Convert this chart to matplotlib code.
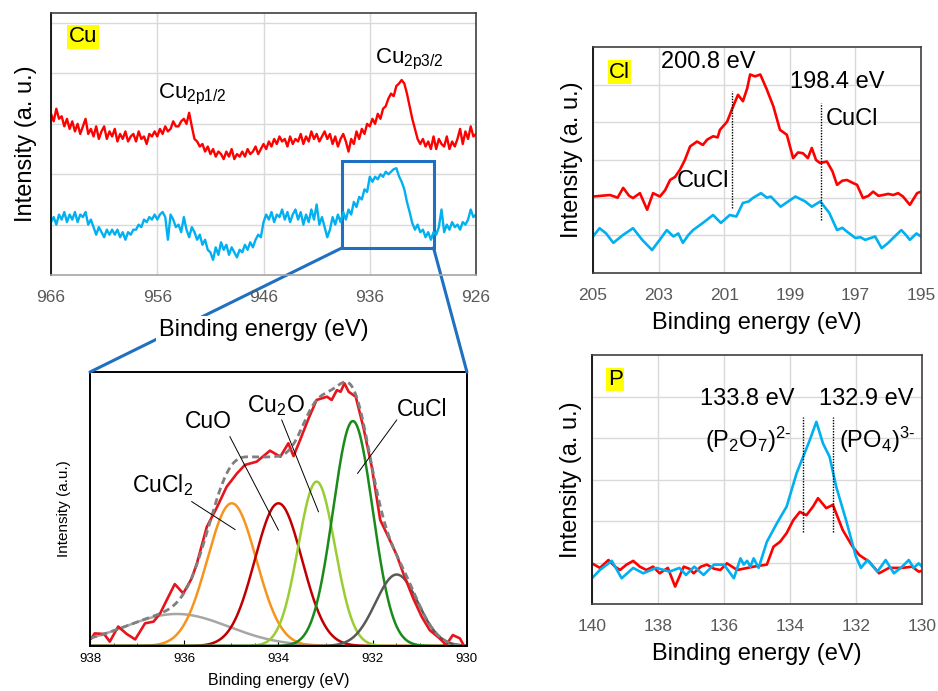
"""
XPS panels: Cu 2p survey with deconvoluted inset, Cl 2p and P 2p.
Red = sample A, blue = sample B. Intensities are in arbitrary units.
"""
import numpy as np
import matplotlib

matplotlib.use("Agg")
import matplotlib.pyplot as plt
from matplotlib.patches import Rectangle, ConnectionPatch

plt.rcParams["font.family"] = ["Liberation Sans", "DejaVu Sans"]
plt.rcParams["mathtext.fontset"] = "custom"
plt.rcParams["mathtext.rm"] = "Liberation Sans"
plt.rcParams["mathtext.default"] = "regular"

RED = "#ff0000"
BLUE = "#00b0f0"
BOX_BLUE = "#1f70c1"
GRID = "#d9d9d9"

# ---- Cu 2p, 966 -> 926 eV, one value every 0.25 eV
cu_energy = np.linspace(966, 926, 161)
cu_red = [
    3.2, 3.05, 3.3, 3.1, 3.15, 2.95, 3.1, 2.9,
    3.05, 2.85, 3.0, 2.8, 2.95, 3.1, 2.8, 2.9,
    2.75, 2.95, 2.7, 2.85, 2.95, 2.7, 2.85, 2.75,
    2.9, 2.65, 2.8, 2.7, 2.85, 2.65, 2.75, 2.8,
    2.65, 2.85, 2.7, 2.75, 2.6, 2.8, 2.75, 2.85,
    2.75, 2.9, 2.8, 2.95, 2.85, 2.9, 3.05, 2.95,
    2.95, 3.05, 3.1, 3.0, 3.22, 2.95, 2.7, 2.65,
    2.55, 2.6, 2.45, 2.55, 2.4, 2.5, 2.35, 2.45,
    2.4, 2.3, 2.45, 2.35, 2.5, 2.3, 2.4, 2.35,
    2.45, 2.35, 2.5, 2.4, 2.45, 2.55, 2.4, 2.5,
    2.6, 2.5, 2.65, 2.55, 2.7, 2.6, 2.75, 2.65,
    2.7, 2.55, 2.75, 2.6, 2.7, 2.65, 2.8, 2.6,
    2.75, 2.65, 2.85, 2.7, 2.8, 2.65, 2.75, 2.85,
    2.7, 2.8, 2.6, 2.75, 2.55, 2.7, 2.8, 2.65,
    2.45, 2.7, 2.6, 2.85, 2.7, 2.9, 2.8, 3.0,
    2.95, 3.1, 3.0, 3.2, 3.1, 3.3, 3.35, 3.5,
    3.6, 3.55, 3.75, 3.8, 3.87, 3.8, 3.6, 3.35,
    3.1, 2.9, 2.7, 2.6, 2.7, 2.55, 2.65, 2.5,
    2.75, 2.5, 2.7, 2.6, 2.55, 2.75, 2.5, 2.65,
    2.55, 2.7, 2.9, 2.6, 2.85, 2.7, 2.95, 2.75,
    2.8,
]
cu_blue = [
    1.05, 1.15, 1.0, 1.2, 1.1, 1.25, 1.05, 1.2,
    1.1, 1.25, 1.05, 1.2, 1.15, 1.25, 1.0, 1.1,
    0.95, 0.8, 0.95, 0.85, 0.75, 0.9, 0.8, 0.9,
    0.8, 0.9, 0.75, 0.85, 0.7, 0.85, 0.8, 0.9,
    0.9, 1.0, 0.95, 1.1, 1.05, 1.15, 1.1, 1.2,
    1.1, 1.2, 1.25, 1.15, 0.7, 1.2, 1.1, 0.95,
    1.0, 0.85, 1.15, 0.9, 0.75, 0.95, 0.85, 0.7,
    0.8, 0.6, 0.7, 0.5, 0.45, 0.3, 0.55, 0.4,
    0.65, 0.5, 0.6, 0.4, 0.55, 0.45, 0.35, 0.5,
    0.45, 0.6, 0.5, 0.65, 0.55, 0.7, 0.8, 0.75,
    1.05, 1.2, 1.1, 1.25, 1.05, 1.2, 1.15, 1.3,
    1.1, 1.25, 1.05, 1.2, 1.3, 1.1, 1.25, 1.0,
    1.2, 1.05, 1.3, 1.1, 1.4, 1.0, 1.15, 0.95,
    0.75, 0.9, 1.15, 1.0, 1.2, 1.05, 1.25, 1.1,
    1.3, 1.2, 1.45, 1.35, 1.55, 1.5, 1.7, 1.65,
    1.95, 1.85, 1.95, 1.9, 2.0, 1.95, 2.05, 2.0,
    2.05, 2.1, 2.12, 1.96, 1.85, 1.7, 1.45, 1.25,
    1.03, 0.9, 1.0, 0.85, 0.9, 0.75, 0.85, 0.7,
    0.85, 0.8, 0.95, 1.3, 0.85, 1.0, 0.9, 1.05,
    0.95, 1.0, 0.9, 1.05, 1.0, 1.1, 1.3, 1.15,
    1.2,
]

# zoom box on the Cu panel (eV, a.u.)
cu_box_e = (938.6, 930.0)
cu_box_i = (0.54, 2.26)

# ---- inset: measured Cu 2p3/2 and fitted components
fit_energy = [
    937.97, 937.9, 937.7, 937.58, 937.4, 937.22, 937.04, 936.83, 936.65,
    936.51, 936.37, 936.2, 936.02, 935.84, 935.73, 935.52, 935.3, 935.1,
    934.88, 934.71, 934.46, 934.18, 933.96, 933.79, 933.68, 933.54, 933.36,
    933.19, 932.97, 932.87, 932.76, 932.68, 932.6, 932.51, 932.36, 932.2,
    932.02, 931.84, 931.67, 931.49, 931.35, 931.14, 930.96, 930.79, 930.58,
    930.44, 930.3, 930.15, 930.06,
]
fit_measured = [
    0.28, 0.46, 0.44, 0.16, 0.71, 0.44, 0.24, 0.83, 0.89,
    1.19, 1.68, 2.26, 1.92, 2.47, 3.02, 4.35, 5.08, 5.81,
    6.3, 6.61, 6.73, 7.13, 6.91, 7.4, 6.93, 7.52, 8.31,
    8.98, 9.1, 8.98, 9.34, 9.28, 9.59, 9.28, 9.1, 8.0,
    6.54, 4.6, 3.99, 3.32, 2.65, 1.74, 1.07, 0.58, 0.28,
    0.04, 0.4, 0.28, 0.0,
]
comp_center = [936.16, 934.99, 934.0, 933.19, 932.42, 931.49]
comp_height = [1.17, 5.21, 5.21, 6.0, 8.21, 2.61]
comp_sigma = [1.1, 0.52, 0.5, 0.39, 0.42, 0.45]
comp_color = ["#a6a6a6", "#f7941d", "#c00000", "#9acd32", "#1a8a1a", "#595959"]

# ---- Cl 2p
cl_red_e = [
    205.0, 204.75, 204.48, 204.25, 204.08, 203.9, 203.78, 203.57, 203.35,
    203.17, 202.96, 202.8, 202.65, 202.5, 202.35, 202.2, 202.04, 201.83,
    201.65, 201.52, 201.34, 201.2, 201.13, 200.91, 200.73, 200.58, 200.43,
    200.3, 200.21, 200.06, 199.9, 199.7, 199.5, 199.3, 199.09, 198.9,
    198.75, 198.6, 198.45, 198.33, 198.2, 198.08, 197.87, 197.7, 197.56,
    197.4, 197.26, 197.1, 196.95, 196.77, 196.6, 196.46, 196.3, 196.16,
    196.0, 195.85, 195.7, 195.55, 195.34, 195.12, 195.0,
]
cl_red_i = [
    2.03, 2.05, 2.07, 2.0, 2.26, 2.05, 1.99, 2.12, 1.68,
    2.12, 2.03, 2.2, 2.47, 2.55, 2.74, 3.0, 3.36, 3.49,
    3.4, 3.54, 3.63, 3.6, 3.8, 4.02, 4.42, 4.73, 4.56,
    4.9, 5.27, 5.22, 5.27, 4.87, 4.42, 3.8, 3.67, 3.05,
    3.2, 3.18, 3.05, 3.32, 3.0, 2.92, 2.96, 2.7, 2.34,
    2.45, 2.47, 2.4, 2.34, 1.99, 2.05, 2.16, 2.05, 2.07,
    2.1, 2.07, 2.12, 2.03, 1.81, 2.12, 2.16,
]
cl_blue_e = [
    205.0, 204.8, 204.6, 204.38, 204.1, 203.78, 203.5, 203.2, 202.95,
    202.75, 202.55, 202.4, 202.26, 202.1, 201.95, 201.65, 201.34, 201.1,
    200.83, 200.63, 200.43, 200.25, 200.13, 199.88, 199.7, 199.58, 199.28,
    199.05, 198.83, 198.53, 198.33, 198.07, 197.8, 197.56, 197.4, 197.26,
    197.0, 196.85, 196.7, 196.4, 196.2, 196.0, 195.85, 195.6, 195.45,
    195.34, 195.14, 195.0,
]
cl_blue_i = [
    0.97, 1.19, 1.05, 0.8, 1.0, 1.19, 0.88, 0.61, 0.9,
    1.14, 0.97, 1.05, 0.8, 1.0, 1.14, 1.33, 1.54, 1.33,
    1.54, 1.5, 1.86, 1.9, 1.99, 2.12, 2.0, 2.03, 1.76,
    1.9, 2.03, 1.9, 1.76, 1.9, 1.6, 1.14, 1.2, 1.1,
    0.93, 0.95, 0.88, 0.97, 0.66, 0.8, 0.93, 1.14, 1.0,
    0.88, 1.05, 0.97,
]
cl_mark_e = [200.75, 198.05]
cl_mark_lo = [1.73, 1.41]
cl_mark_hi = [4.82, 4.52]

# ---- P 2p
p_red_e = [
    140.0, 139.76, 139.5, 139.3, 139.15, 138.95, 138.75, 138.55, 138.35,
    138.15, 137.95, 137.7, 137.48, 137.22, 137.05, 136.92, 136.7, 136.52,
    136.3, 136.11, 135.91, 135.6, 135.1, 134.7, 134.5, 134.3, 134.1,
    133.9, 133.7, 133.5, 133.3, 133.15, 132.9, 132.7, 132.4, 132.1,
    131.9, 131.6, 131.3, 131.0, 130.6, 130.3, 130.1, 130.0,
]
p_red_i = [
    0.98, 0.87, 1.06, 0.9, 0.82, 0.95, 1.04, 0.9, 0.82,
    0.9, 0.74, 0.87, 0.42, 0.9, 0.85, 0.74, 0.9, 0.95,
    0.85, 0.82, 0.98, 0.82, 0.9, 0.95, 1.38, 1.5, 1.71,
    2.02, 2.22, 2.14, 2.35, 2.55, 2.31, 2.39, 1.78, 1.38,
    1.18, 1.02, 0.74, 0.87, 0.87, 0.9, 0.78, 0.8,
]
p_blue_e = [
    140.0, 139.76, 139.4, 139.1, 138.75, 138.45, 138.05, 137.65, 137.35,
    137.15, 136.9, 136.62, 136.3, 136.0, 135.7, 135.5, 135.4, 135.3,
    135.2, 135.1, 134.95, 134.7, 134.4, 134.1, 133.8, 133.6, 133.4,
    133.2, 133.0, 132.8, 132.6, 132.3, 132.0, 131.85, 131.65, 131.35,
    131.1, 130.85, 130.6, 130.4, 130.25, 130.1, 130.0,
]
p_blue_i = [
    0.62, 0.82, 1.04, 0.62, 0.87, 0.74, 0.87, 0.78, 0.87,
    0.7, 0.9, 0.7, 0.95, 0.95, 0.62, 1.1, 0.95, 1.04,
    0.9, 1.1, 0.87, 1.5, 1.94, 2.35, 3.15, 3.55, 3.95,
    4.39, 3.87, 3.55, 2.83, 2.02, 1.14, 0.87, 1.06, 0.78,
    1.06, 0.74, 0.9, 1.06, 0.87, 0.98, 0.9,
]
p_mark_e = [133.6, 132.7]
p_mark_lo = [1.74, 1.74]
p_mark_hi = [4.51, 4.51]


def style_panel(ax, xlim, xticks, ylim, yticks, ylabel_pad, bottom_color="#404040"):
    """Excel-like panel: light grid, no tick marks, grey tick labels."""
    ax.set_xlim(*xlim)
    ax.set_ylim(*ylim)
    ax.set_xticks(xticks)
    ax.set_yticks(yticks)
    ax.set_yticklabels([])
    ax.grid(True, color=GRID, lw=1.0)
    ax.set_axisbelow(True)
    ax.tick_params(length=0, labelsize=12.5, labelcolor="#595959", pad=11)
    for side in ("top", "right"):
        ax.spines[side].set_color("#404040")
        ax.spines[side].set_linewidth(1.2)
    ax.spines["left"].set_color("#1a1a1a")
    ax.spines["left"].set_linewidth(1.4)
    ax.spines["bottom"].set_color(bottom_color)
    ax.spines["bottom"].set_linewidth(1.2)
    ax.set_ylabel("Intensity (a. u.)", fontsize=17, labelpad=ylabel_pad)


def tag(ax, x, y, s):
    ax.text(x, y, s, fontsize=16, ha="center", va="baseline",
            bbox=dict(fc="#ffff00", ec="none", pad=1.0))


fig = plt.figure(figsize=(9.38, 6.91), dpi=100)

# ---- Cu overview
ax_cu = fig.add_axes([0.0544, 0.602, 0.4531, 0.3792], zorder=3)
ax_cu.patch.set_alpha(0.0)
ax_cu.plot(cu_energy, cu_red, color=RED, lw=1.7)
ax_cu.plot(cu_energy, cu_blue, color=BLUE, lw=1.7)
style_panel(ax_cu, (966, 926), [966, 956, 946, 936, 926], (0, 5.2), [1, 2, 3, 4, 5],
            -1, bottom_color="#a6a6a6")
ax_cu.set_xlabel("Binding energy (eV)", fontsize=17, labelpad=10,
                 bbox=dict(fc="white", ec="none", pad=2))
tag(ax_cu, 962.99, 4.62, "Cu")
ax_cu.text(955.93, 3.51, "Cu$_{2p1/2}$", fontsize=16, ha="left", va="baseline")
ax_cu.text(935.5, 4.19, "Cu$_{2p3/2}$", fontsize=16, ha="left", va="baseline")
ax_cu.add_patch(Rectangle((cu_box_e[0], cu_box_i[0]), cu_box_e[1] - cu_box_e[0],
                          cu_box_i[1] - cu_box_i[0], fill=False, ec=BOX_BLUE, lw=2.2))

# ---- inset with fitted components
ax_in = fig.add_axes([0.0959, 0.0651, 0.4019, 0.3965], zorder=1)
grid_e = np.linspace(938, 930, 600)
envelope = np.zeros_like(grid_e)
for c, h, s, col in zip(comp_center, comp_height, comp_sigma, comp_color):
    peak = h * np.exp(-((grid_e - c) ** 2) / (2 * s ** 2))
    envelope += peak
    ax_in.plot(grid_e, peak, color=col, lw=1.8)
ax_in.plot(fit_energy, fit_measured, color="#e8141c", lw=1.9)
ax_in.plot(grid_e, envelope, color="#7f7f7f", lw=2.0, ls=(0, (2.5, 1.5)))
ax_in.set_xlim(938, 930)
ax_in.set_ylim(0, 10)
ax_in.set_yticks([])
ax_in.set_xticks([938, 936, 934, 932, 930])
ax_in.set_xticks(np.arange(930, 938.01, 0.5), minor=True)
ax_in.tick_params(axis="x", which="major", direction="in", length=4, labelsize=9.5, pad=5)
ax_in.tick_params(axis="x", which="minor", direction="in", length=2.5)
for sp in ax_in.spines.values():
    sp.set_linewidth(1.4)
ax_in.set_xlabel("Binding energy (eV)", fontsize=11.5, labelpad=6)
ax_in.set_ylabel("Intensity (a.u.)", fontsize=11, labelpad=14)

labels = [
    (937.11, 5.6, "CuCl$_2$", (935.84, 5.27), (934.92, 4.25)),
    (935.98, 7.94, "CuO", (935.03, 7.64), (934.0, 4.23)),
    (934.67, 8.55, "Cu$_2$O", (933.93, 8.25), (933.15, 4.9)),
    (931.48, 8.39, "CuCl", (931.49, 8.25), (932.32, 6.3)),
]
for x, y, s, p0, p1 in labels:
    ax_in.text(x, y, s, fontsize=16.5, ha="left", va="baseline")
    ax_in.plot([p0[0], p1[0]], [p0[1], p1[1]], color="black", lw=0.7)

# zoom lines from the box corners to the inset's top corners
for e_corner, fx in ((cu_box_e[0], 0.0), (cu_box_e[1], 1.0)):
    con = ConnectionPatch(xyA=(e_corner, cu_box_i[0]), coordsA=ax_cu.transData,
                          xyB=(fx, 1.0), coordsB=ax_in.transAxes,
                          color=BOX_BLUE, lw=2.2)
    con.set_zorder(2)
    fig.add_artist(con)

# ---- Cl 2p
ax_cl = fig.add_axes([0.6322, 0.6049, 0.3497, 0.3271])
ax_cl.plot(cl_red_e, cl_red_i, color=RED, lw=1.9)
ax_cl.plot(cl_blue_e, cl_blue_i, color=BLUE, lw=1.9)
style_panel(ax_cl, (205, 195), np.arange(205, 194, -2), (0, 6), [1, 2, 3, 4, 5], -4)
ax_cl.set_xlabel("Binding energy (eV)", fontsize=17, labelpad=6)
ax_cl.vlines(cl_mark_e, cl_mark_lo, cl_mark_hi, colors="black", lw=1.0, linestyles=(0, (1, 1)))
tag(ax_cl, 204.19, 5.19, "Cl")
ax_cl.text(201.49, 5.45, "200.8 eV", fontsize=17, ha="center", va="baseline")
ax_cl.text(197.55, 4.92, "198.4 eV", fontsize=17, ha="center", va="baseline")
ax_cl.text(197.09, 3.94, "CuCl", fontsize=17, ha="center", va="baseline")
ax_cl.text(201.66, 2.29, "CuCl", fontsize=17, ha="center", va="baseline")

# ---- P 2p
ax_p = fig.add_axes([0.6311, 0.1259, 0.3518, 0.3603])
ax_p.plot(p_red_e, p_red_i, color=RED, lw=1.9)
ax_p.plot(p_blue_e, p_blue_i, color=BLUE, lw=1.9)
style_panel(ax_p, (140, 130), np.arange(140, 129, -2), (0, 6), [1, 2, 3, 4, 5], -4)
ax_p.set_xlabel("Binding energy (eV)", fontsize=17, labelpad=6)
ax_p.vlines(p_mark_e, p_mark_lo, p_mark_hi, colors="black", lw=1.0, linestyles=(0, (1, 1)))
tag(ax_p, 139.3, 5.28, "P")
ax_p.text(135.29, 4.8, "133.8 eV", fontsize=17, ha="center", va="baseline")
ax_p.text(131.68, 4.8, "132.9 eV", fontsize=17, ha="center", va="baseline")
ax_p.text(135.27, 3.76, r"(P$_2$O$_7$)$^{2\text{-}}$", fontsize=17, ha="center", va="baseline")
ax_p.text(131.35, 3.76, r"(PO$_4$)$^{3\text{-}}$", fontsize=17, ha="center", va="baseline")

fig.savefig("out.png", dpi=100)
